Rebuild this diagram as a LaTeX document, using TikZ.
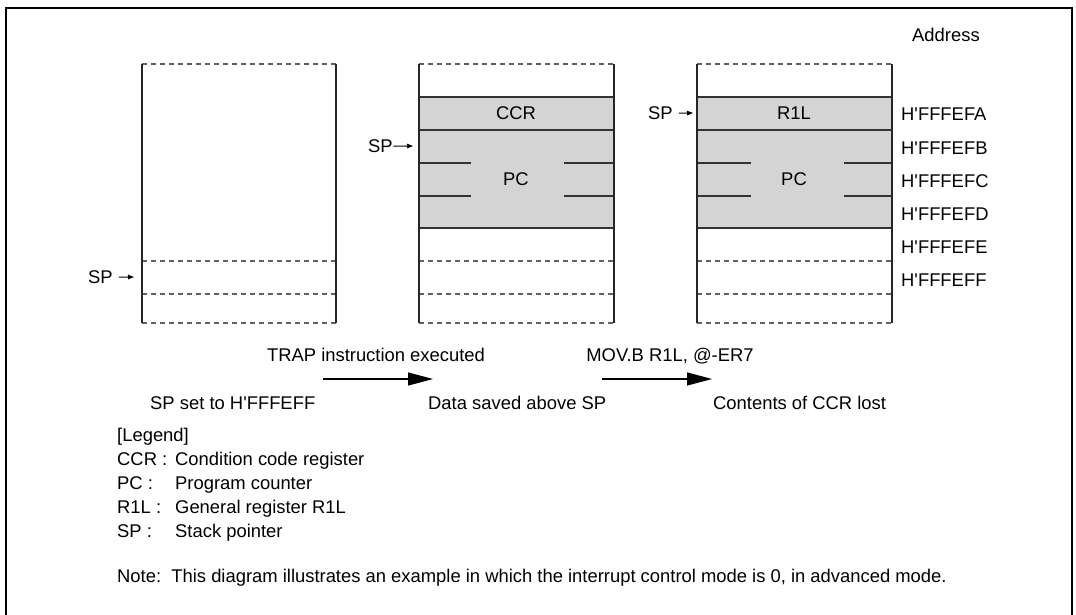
\documentclass[tikz,border=0pt]{standalone}
\usepackage{fontspec}
\setmainfont{Liberation Sans}
\usetikzlibrary{arrows.meta}
\newcommand{\ap}{\textquotesingle}
\begin{document}
\begin{tikzpicture}[x=1pt,y=-1pt,
  txt/.style={inner sep=0pt, font=\fontsize{18.4}{20}\selectfont},
  colline/.style={line width=2.5pt, draw=black!85},
  dsh/.style={draw=black!62, line width=1.1pt, dash pattern=on 5pt off 4pt},
  sld/.style={draw=black!80, line width=1.3pt},
  cell/.style={fill=black!17},
  spar/.style={-{Triangle[length=6pt,width=4.5pt]}, line width=1pt},
  bigar/.style={-{Triangle[length=25pt,width=13pt]}, line width=1.2pt}
]
\useasboundingbox (0,0) rectangle (1076,615);
% frame
\draw[line width=2pt] (6,615) -- (6,8) -- (1072,8) -- (1072,615);

% ---------- column 1 ----------
\draw[dsh] (142,64) -- (336,64);
\draw[dsh] (142,261) -- (336,261);
\draw[dsh] (142,294) -- (336,294);
\draw[dsh] (142,323) -- (336,323);
\draw[colline] (142,64) -- (142,323);
\draw[colline] (336,64) -- (336,323);

% ---------- column 2 ----------
\fill[cell] (419,97) rectangle (614,228);
\draw[dsh] (419,64) -- (614,64);
\draw[sld] (419,97) -- (614,97);
\draw[sld] (419,130) -- (614,130);
\draw[sld] (419,163) -- (471,163);
\draw[sld] (564,163) -- (614,163);
\draw[sld] (419,196) -- (471,196);
\draw[sld] (564,196) -- (614,196);
\draw[sld] (419,228) -- (614,228);
\draw[dsh] (419,261) -- (614,261);
\draw[dsh] (419,294) -- (614,294);
\draw[dsh] (419,323) -- (614,323);
\draw[colline] (419,64) -- (419,323);
\draw[colline] (614,64) -- (614,323);
\node[txt] (ccr2) at (516,113.5) {CCR};
\node[txt] (pc2) at (516,179) {PC};

% ---------- column 3 ----------
\fill[cell] (697,97) rectangle (892,228);
\draw[dsh] (697,64) -- (892,64);
\draw[sld] (697,97) -- (892,97);
\draw[sld] (697,130) -- (892,130);
\draw[sld] (697,163) -- (751,163);
\draw[sld] (844,163) -- (892,163);
\draw[sld] (697,196) -- (751,196);
\draw[sld] (844,196) -- (892,196);
\draw[sld] (697,228) -- (892,228);
\draw[dsh] (697,261) -- (892,261);
\draw[dsh] (697,294) -- (892,294);
\draw[dsh] (697,323) -- (892,323);
\draw[colline] (697,64) -- (697,323);
\draw[colline] (892,64) -- (892,323);
\node[txt] (r1l3) at (794,113.5) {R1L};
\node[txt] (pc3) at (794,179) {PC};

% ---------- SP pointers ----------
\node[txt,anchor=base west] (sp1) at (88,283.5) {SP};
\coordinate (sp1t) at (134,277);
\draw[spar] ([xshift=6pt]sp1.east) -- (sp1t);
\node[txt,anchor=base west] (sp2) at (368,152.5) {SP};
\coordinate (sp2t) at (413,146);
\draw[spar] ([xshift=0.5pt]sp2.east) -- (sp2t);
\node[txt,anchor=base west] (sp3) at (648,119.5) {SP};
\coordinate (sp3t) at (693,113);
\draw[spar] ([xshift=6pt]sp3.east) -- (sp3t);

% ---------- addresses ----------
\node[txt,anchor=base west] (addr) at (912,41.5) {Address};
\node[txt,anchor=base west] (afa) at (901,121) {H\ap FFFEFA};
\node[txt,anchor=base west] (afb) at (901,154) {H\ap FFFEFB};
\node[txt,anchor=base west] (afc) at (901,187) {H\ap FFFEFC};
\node[txt,anchor=base west] (afd) at (901,220) {H\ap FFFEFD};
\node[txt,anchor=base west] (afe) at (901,253) {H\ap FFFEFE};
\node[txt,anchor=base west] (aff) at (901,286) {H\ap FFFEFF};

% ---------- transitions ----------
\node[txt,anchor=base] (trap) at (376,361.5) {TRAP instruction executed};
\node[txt,anchor=base] (mov) at (670,361.5) {MOV.B R1L, @-ER7};
\coordinate (a1s) at (323,379);
\coordinate (a1e) at (433,379);
\draw[bigar] (a1s) -- (a1e);
\coordinate (a2s) at (602,379);
\coordinate (a2e) at (712,379);
\draw[bigar] (a2s) -- (a2e);
\node[txt,anchor=base west] (st1) at (150,409.5) {SP set to H\ap FFFEFF};
\node[txt,anchor=base west] (st2) at (428,409.5) {Data saved above SP};
\node[txt,anchor=base west] (st3) at (713,409.5) {Contents of CCR lost};

% ---------- legend ----------
\node[txt,anchor=base west] (leg) at (117,441.5) {[Legend]};
\node[txt,anchor=base west] (lccr) at (117,465.5) {CCR :};
\node[txt,anchor=base west] (dccr) at (175,465.5) {Condition code register};
\node[txt,anchor=base west] (lpc) at (117,489.5) {PC :};
\node[txt,anchor=base west] (dpc) at (175,489.5) {Program counter};
\node[txt,anchor=base west] (lr1l) at (117,513.5) {R1L :};
\node[txt,anchor=base west] (dr1l) at (175,513.5) {General register R1L};
\node[txt,anchor=base west] (lsp) at (117,537) {SP :};
\node[txt,anchor=base west] (dsp) at (175,537) {Stack pointer};
\node[txt,anchor=base west] (note) at (117,582.5) {Note:\ \ This diagram illustrates an example in which the interrupt control mode is 0, in advanced mode.};
\end{tikzpicture}
\end{document}
